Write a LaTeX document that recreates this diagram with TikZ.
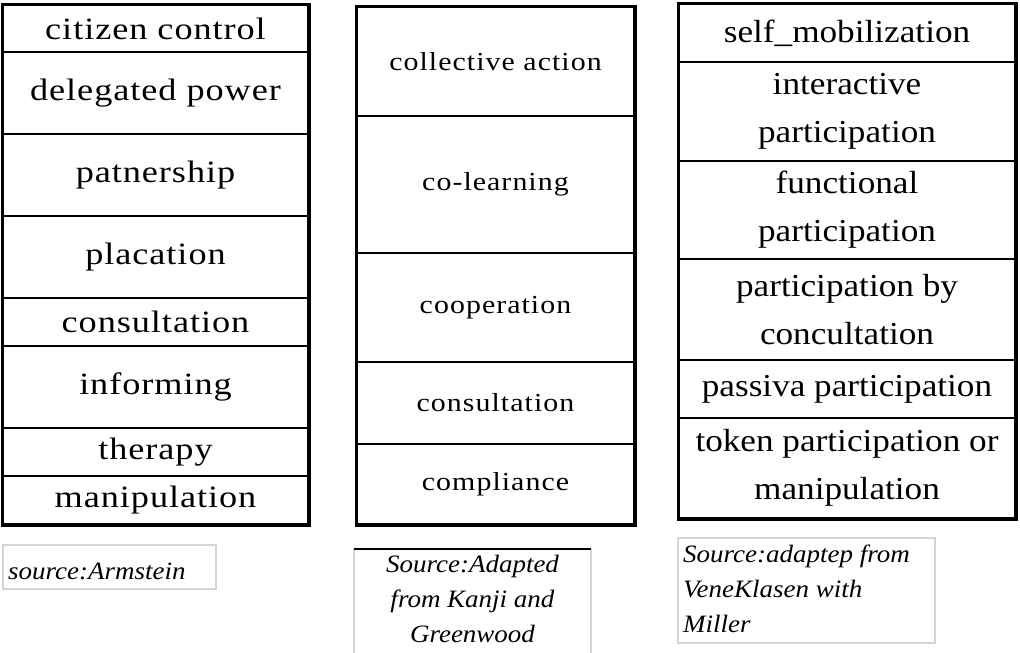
\documentclass[tikz,border=0pt]{standalone}
\usepackage{fontspec}
\setmainfont{Liberation Serif}
\newfontfamily\lfont[FakeStretch=1.17,LetterSpace=3]{Liberation Serif}
\newfontfamily\mfont[FakeStretch=1.15,LetterSpace=4]{Liberation Serif}
\newfontfamily\rfont[FakeStretch=1.1]{Liberation Serif}
\newfontfamily\sfont[FakeStretch=1.08]{Liberation Serif}
\definecolor{boxgrey}{RGB}{212,212,212}
\tikzset{
  cellbase/.style={draw=black, line width=2pt, inner sep=0pt, align=center},
  lcell/.style={cellbase, minimum width=305pt, font=\lfont\fontsize{31}{36}\selectfont},
  mcell/.style={cellbase, minimum width=277pt, font=\mfont\fontsize{26}{30}\selectfont},
  rcell/.style={cellbase, minimum width=336pt, font=\rfont\fontsize{32}{48}\selectfont},
  outer/.style={draw=black, line width=3pt},
  srcbox/.style={draw=boxgrey, line width=1.5pt, inner sep=0pt},
  srctext/.style={inner sep=0pt, font=\sfont\itshape\fontsize{25}{35}\selectfont},
}
\begin{document}
\begin{tikzpicture}[x=1pt,y=-1pt]
\useasboundingbox (0,0) rectangle (1020,653);
% left column
\node[lcell, minimum height=47pt] (l1) at (155.5,28.5) {citizen control};
\node[lcell, minimum height=82pt] (l2) at (155.5,93) {delegated power};
\node[lcell, minimum height=82pt] (l3) at (155.5,175) {patnership};
\node[lcell, minimum height=82pt] (l4) at (155.5,257) {placation};
\node[lcell, minimum height=48pt] (l5) at (155.5,322) {consultation};
\node[lcell, minimum height=82pt] (l6) at (155.5,387) {informing};
\node[lcell, minimum height=48pt] (l7) at (155.5,452) {therapy};
\node[lcell, minimum height=48pt] (l8) at (155.5,500) {manipulation};
\draw[outer] (l1.north west) rectangle (l8.south east);
% middle column
\node[mcell, minimum height=109pt] (m1) at (495.5,61.5) {collective action};
\node[mcell, minimum height=137pt] (m2) at (495.5,184.5) {co-learning};
\node[mcell, minimum height=109pt] (m3) at (495.5,307.5) {cooperation};
\node[mcell, minimum height=82pt] (m4) at (495.5,403) {consultation};
\node[mcell, minimum height=80pt] (m5) at (495.5,484) {compliance};
\draw[outer] (m1.north west) rectangle (m5.south east);
% right column
\node[rcell, minimum height=58pt] (r1) at (847,33) {self\_mobilization};
\node[rcell, minimum height=99pt] (r2) at (847,111.5) {interactive\\participation};
\node[rcell, minimum height=98pt] (r3) at (847,210) {functional\\participation};
\node[rcell, minimum height=101pt] (r4) at (847,309.5) {participation by\\concultation};
\node[rcell, minimum height=58pt] (r5) at (847,389) {passiva participation};
\node[rcell, minimum height=100pt] (r6) at (847,468) {token participation or\\manipulation};
\draw[outer] (r1.north west) rectangle (r6.south east);
% sources
\node[srcbox, minimum width=213pt, minimum height=44pt] (s1) at (109.5,567) {};
\node[srctext, anchor=base west] (s1t) at (8,579) {source:Armstein};
\node[inner sep=0pt, minimum width=237pt, minimum height=110pt] (s2) at (472.5,604) {};
\draw[boxgrey, line width=1.5pt] (s2.north west) -- (s2.south west) (s2.north east) -- (s2.south east);
\draw[black, line width=1.5pt] (s2.north west) -- (s2.north east);
\node[srctext, align=center, anchor=base] (s2t) at (472.5,642) {Source:Adapted\\from Kanji and\\Greenwood};
\node[srcbox, minimum width=257pt, minimum height=105pt] (s3) at (806.5,590.5) {};
\node[srctext, align=left, anchor=base west] (s3t) at (683,632) {Source:adaptep from\\VeneKlasen with\\Miller};
\end{tikzpicture}
\end{document}
